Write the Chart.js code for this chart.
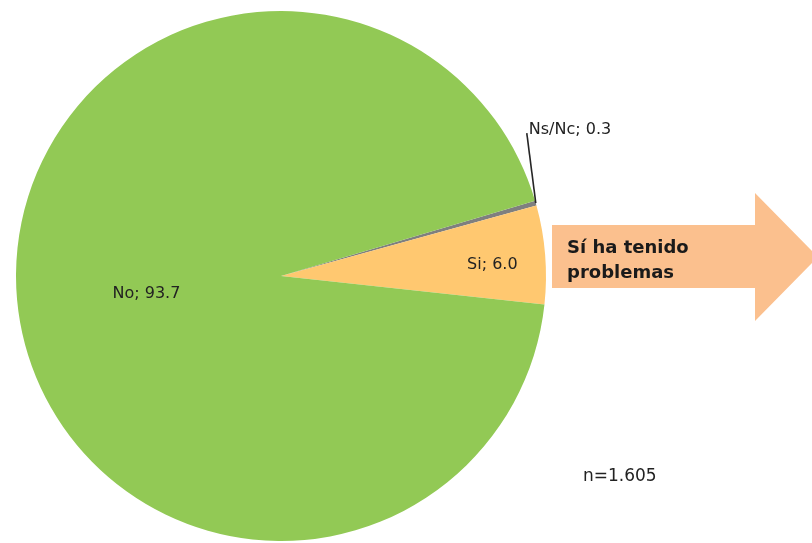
<!DOCTYPE html>
<html>
<head>
<meta charset="utf-8">
<script src="https://cdn.jsdelivr.net/npm/chart.js@4.4.0/dist/chart.umd.min.js"></script>
<style>
  html, body { margin: 0; padding: 0; background: #fff; }
  #wrap { width: 812px; height: 543px; position: relative; }
</style>
</head>
<body>
<div id="wrap"><canvas id="myChart" width="812" height="543"></canvas></div>
<script>
'use strict'
// data
let categories = ['Ns/Nc', 'Si', 'No'];
let values = [0.3, 6.0, 93.7];
let sliceColors = ['#7f7f7f', '#ffc870', '#92c955'];
let sampleNote = 'n=1.605';
let arrowText = ['Sí ha tenido', 'problemas'];

// labels "Cat; value" drawn next to each slice
let labelPlugin = {
    id: 'sliceLabels',
    afterDatasetsDraw(chart) {
        let ctx = chart.ctx;
        let meta = chart.getDatasetMeta(0);
        ctx.save();
        ctx.fillStyle = '#222';
        ctx.font = '16px "DejaVu Sans", sans-serif';
        ctx.textBaseline = 'middle';
        meta.data.forEach(function (arc, i) {
            let p = arc.getProps(['x', 'y', 'startAngle', 'endAngle', 'outerRadius']);
            let mid = (p.startAngle + p.endAngle) / 2;
            let txt = categories[i] + '; ' + values[i].toFixed(1);
            if (i === 0) {
                // small slice: leader line going out
                let ex = p.x + Math.cos(mid) * p.outerRadius;
                let ey = p.y + Math.sin(mid) * p.outerRadius;
                let lx = ex - 9, ly = ey - 70;
                ctx.strokeStyle = '#262626';
                ctx.lineWidth = 1.6;
                ctx.beginPath();
                ctx.moveTo(ex, ey);
                ctx.lineTo(lx, ly);
                ctx.stroke();
                ctx.textAlign = 'left';
                ctx.fillText(txt, lx + 2, ly - 3);
            } else {
                let f = i === 1 ? 0.8 : 0.51;
                ctx.textAlign = 'center';
                ctx.fillText(txt, p.x + Math.cos(mid) * p.outerRadius * f,
                    p.y + Math.sin(mid) * p.outerRadius * f + 6);
            }
        });
        // sample size
        ctx.textAlign = 'left';
        ctx.font = '17px "DejaVu Sans", sans-serif';
        ctx.fillText(sampleNote, 583, 477);
        ctx.restore();
    }
};

// big arrow pointing away from the Si slice
let arrowPlugin = {
    id: 'arrow',
    afterDraw(chart) {
        let ctx = chart.ctx;
        ctx.save();
        ctx.fillStyle = '#fbc08e';
        ctx.beginPath();
        ctx.moveTo(552, 225);
        ctx.lineTo(755, 225);
        ctx.lineTo(755, 193);
        ctx.lineTo(818, 257);
        ctx.lineTo(755, 321);
        ctx.lineTo(755, 288);
        ctx.lineTo(552, 288);
        ctx.closePath();
        ctx.fill();
        ctx.fillStyle = '#1a1a1a';
        ctx.font = 'bold 18px "DejaVu Sans", sans-serif';
        ctx.textAlign = 'left';
        ctx.textBaseline = 'middle';
        ctx.fillText(arrowText[0], 567, 248);
        ctx.fillText(arrowText[1], 567, 273);
        ctx.restore();
    }
};

let ctx = document.getElementById('myChart').getContext('2d');
let myChart = new Chart(ctx, {
    type: 'pie',
    data: {
        labels: categories,
        datasets: [{
            data: values,
            backgroundColor: sliceColors,
            borderWidth: 0
        }]
    },
    options: {
        responsive: false,
        animation: false,
        rotation: 73.5,
        layout: { padding: { left: 16, top: 11, right: 266, bottom: 2 } },
        plugins: {
            legend: { display: false },
            tooltip: { enabled: false }
        }
    },
    plugins: [labelPlugin, arrowPlugin]
});
</script>
</body>
</html>
